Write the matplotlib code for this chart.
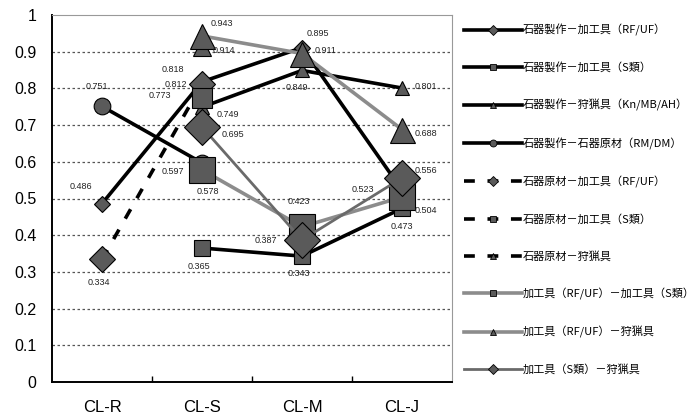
import numpy as np
import matplotlib
matplotlib.use("Agg")
import matplotlib.pyplot as plt
from matplotlib.lines import Line2D

# categories and series values (nan = no value)
categories = ["CL-R", "CL-S", "CL-M", "CL-J"]
nan = np.nan
series_names = [
    "石器製作－加工具（RF/UF）",
    "石器製作－加工具（S類）",
    "石器製作－狩猟具（Kn/MB/AH）",
    "石器製作－石器原材（RM/DM）",
    "石器原材－加工具（RF/UF）",
    "石器原材－加工具（S類）",
    "石器原材－狩猟具",
    "加工具（RF/UF）－加工具（S類）",
    "加工具（RF/UF）－狩猟具",
    "加工具（S類）－狩猟具",
]
s1 = [0.486, 0.818, 0.911, 0.523]
s2 = [nan, 0.365, 0.343, 0.473]
s3 = [nan, 0.749, 0.849, 0.801]
s4 = [0.751, 0.597, nan, nan]
s5 = [0.334, 0.812, nan, nan]
s6 = [nan, 0.773, nan, nan]
s7 = [nan, 0.914, nan, nan]
s8 = [nan, 0.578, 0.423, 0.504]
s9 = [nan, 0.943, 0.895, 0.688]
s10 = [nan, 0.695, 0.387, 0.556]
values = [s1, s2, s3, s4, s5, s6, s7, s8, s9, s10]

# styles: color, linestyle, linewidth, marker, markersize
dash = (0, (3, 3.5))
styles = [
    ("black", "-", 2.6, "D", 8),
    ("black", "-", 2.6, "s", 11),
    ("black", "-", 2.6, "^", 10),
    ("black", "-", 2.6, "o", 12),
    ("black", dash, 2.6, "D", 13),
    ("black", dash, 2.6, "s", 15),
    ("black", dash, 2.6, "^", 13),
    ("#8c8c8c", "-", 2.6, "s", 19),
    ("#8c8c8c", "-", 2.6, "^", 18),
    ("#6a6a6a", "-", 2.0, "D", 18),
]
mfill = "#5a5a5a"

# label offsets in pixels (dx, dy up) keyed by (series index, category index)
offsets = {
    (3, 0): (-5, 20), (0, 0): (-21, 17), (4, 0): (-3, -23),
    (8, 1): (20, 12), (6, 1): (22, -4), (0, 1): (-29, 12), (4, 1): (-26, -1),
    (5, 1): (-42, 3), (2, 1): (26, -7), (9, 1): (31, -8), (3, 1): (-29, -9),
    (7, 1): (6, -22), (1, 1): (-3, -18),
    (0, 2): (24, -3), (8, 2): (16, 20), (2, 2): (-5, -17), (7, 2): (-3, 25),
    (9, 2): (-36, -1), (1, 2): (-3, -17),
    (2, 3): (24, 2), (8, 3): (24, -4), (9, 3): (24, 7), (0, 3): (-39, 1),
    (7, 3): (24, -13), (1, 3): (0, -18),
}

fig = plt.figure(figsize=(7, 4.17), dpi=100)
ax = fig.add_axes([52 / 700, 1 - 382 / 417, 400 / 700, 367 / 417])

x = np.arange(len(categories))
for vals, (c, ls, lw, m, ms) in zip(values, styles):
    ax.plot(x, vals, color=c, linestyle=ls, linewidth=lw, marker=m,
            markersize=ms, markerfacecolor=mfill, markeredgecolor="black",
            markeredgewidth=0.8)

for (si, ci), (dx, dy) in offsets.items():
    v = values[si][ci]
    ax.annotate(f"{v:.3f}", (x[ci], v), xytext=(dx, dy),
                textcoords="offset pixels", ha="center", va="center",
                fontsize=6.5, family="Liberation Sans", color="#222222")

ax.set_xlim(-0.5, 3.5)
ax.set_ylim(0, 1)
ax.set_yticks(np.arange(0, 1.01, 0.1))
ax.set_yticklabels(["0", "0.1", "0.2", "0.3", "0.4", "0.5", "0.6", "0.7",
                    "0.8", "0.9", "1"], family="Liberation Sans", fontsize=11.5)
ax.tick_params(axis="y", length=0, pad=11)
ax.set_xticks(x)
ax.set_xticklabels(categories, family="Liberation Sans", fontsize=12)
ax.set_xticks([0.5, 1.5, 2.5], minor=True)
ax.tick_params(axis="x", which="major", length=0, pad=13)
ax.tick_params(axis="x", which="minor", direction="in", length=4, width=1)
for yv in np.arange(0.1, 0.95, 0.1):
    ax.axhline(yv, color="#555555", linestyle=(0, (2, 2)), linewidth=0.9,
               zorder=0)
ax.spines["left"].set_linewidth(1.4)
ax.spines["bottom"].set_linewidth(1.4)
ax.spines["top"].set_color("#999999")
ax.spines["right"].set_color("#999999")

handles = []
for c, ls, lw, m, ms in styles:
    handles.append(Line2D([], [], color=c, linestyle=ls, linewidth=lw,
                          marker=m, markersize=5, markerfacecolor=mfill,
                          markeredgecolor="black", markeredgewidth=0.6))
fig.legend(handles, series_names, loc="upper left",
           bbox_to_anchor=(464 / 700, 1 - 24 / 417), frameon=False,
           prop={"family": ["Noto Sans CJK JP", "DejaVu Sans"], "size": 8},
           handlelength=5.2, handletextpad=0.1, labelspacing=2.35,
           borderaxespad=0, borderpad=0)

fig.savefig("out.png", dpi=100)
